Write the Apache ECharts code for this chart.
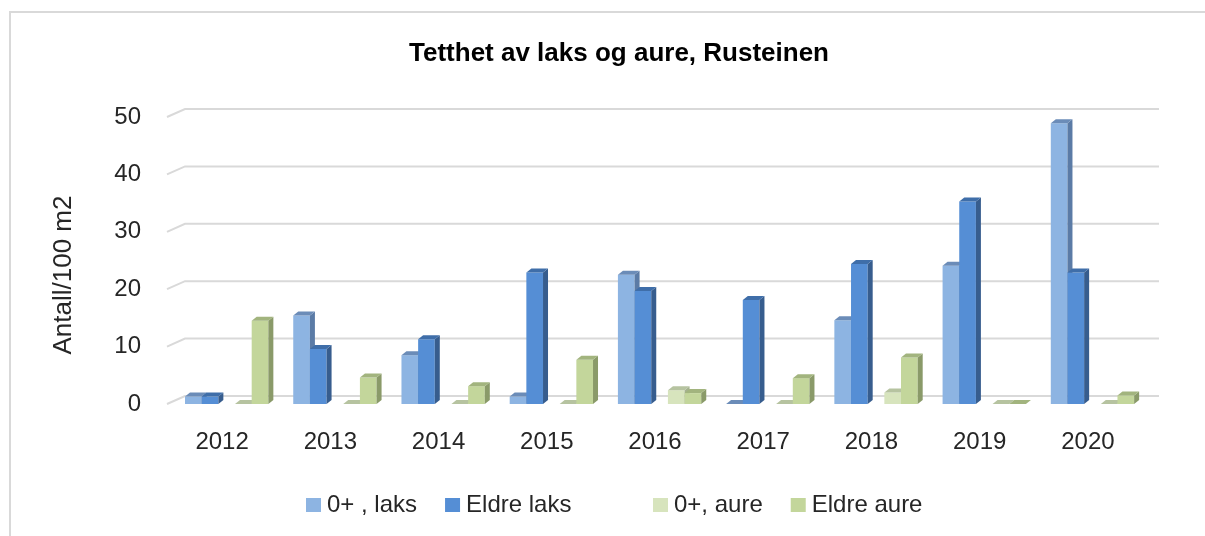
<!DOCTYPE html>
<html>
<head>
<meta charset="utf-8">
<script src="https://cdn.jsdelivr.net/npm/echarts@6/dist/echarts.min.js"></script>
<style>
  html, body { margin: 0; padding: 0; background: #fff; }
  #main { width: 1205px; height: 536px; }
</style>
</head>
<body>
<div id="main"></div>
<script>
let chart = echarts.init(document.getElementById('main'));

// Data
const years = ['2012', '2013', '2014', '2015', '2016', '2017', '2018', '2019', '2020'];
const laks0 = [1.3, 15.4, 8.5, 1.3, 22.5, 0, 14.6, 24.1, 48.9];
const laksEldre = [1.3, 9.6, 11.3, 22.9, 19.7, 18.1, 24.4, 35.3, 22.9];
const aure0 = [0, 0, 0, 0, 2.4, 0, 2.0, 0, 0];
const aureEldre = [14.5, 4.6, 3.1, 7.7, 1.9, 4.5, 8.1, 0, 1.5];
const yTicks = [0, 10, 20, 30, 40, 50];

const FONT = '"Liberation Sans", Arial, sans-serif';
const TXT = '#262626';

// bar depth (3D look) and back-wall offset
const DX = 5, DY = 4;
const WX = 17, WY = 8;

function barRender(slot, colors) {
    return function (params, api) {
        let idx = api.value(0);
        let v = api.value(1);
        let base = api.coord([idx, 0]);
        let top = api.coord([idx, v]);
        let bw = api.size([1, 0])[0];
        let w = bw * 0.154;
        let x0 = base[0] - bw * 0.3427 + slot * w;
        let x1 = x0 + w;
        let yb = base[1], yt = top[1];
        return {
            type: 'group',
            children: [
                { type: 'rect', shape: { x: x0, y: yt, width: w, height: yb - yt }, style: { fill: colors[0] } },
                { type: 'polygon', shape: { points: [[x1, yb], [x1, yt], [x1 + DX, yt - DY], [x1 + DX, yb - DY]] }, style: { fill: colors[2] } },
                { type: 'polygon', shape: { points: [[x0, yt], [x1, yt], [x1 + DX, yt - DY], [x0 + DX, yt - DY]] }, style: { fill: colors[1] } }
            ]
        };
    };
}

function gridRender(params, api) {
    let cs = params.coordSys;
    let y = api.coord([0, api.value(1)])[1];
    return {
        type: 'polyline',
        shape: { points: [[cs.x - 1, y], [cs.x + WX, y - WY], [cs.x + cs.width + WX, y - WY]] },
        style: { stroke: '#d9d9d9', lineWidth: 2, fill: null }
    };
}

function barSeries(name, values, slot, colors) {
    return {
        name: name,
        type: 'custom',
        renderItem: barRender(slot, colors),
        data: values.map((v, i) => [i, v]),
        encode: { x: 0, y: 1 },
        itemStyle: { color: colors[0] },
        z: 3,
        silent: true
    };
}

let legendBase = {
    orient: 'horizontal',
    top: 493,
    padding: 0,
    itemWidth: 15,
    itemHeight: 14,
    itemGap: 28,
    icon: 'rect',
    selectedMode: false,
    textStyle: { fontFamily: FONT, fontSize: 24, color: TXT, padding: [0, 0, 0, 1] }
};

let option = {
    animation: false,
    backgroundColor: '#fff',
    title: {
        text: 'Tetthet av laks og aure, Rusteinen',
        left: 614,
        textAlign: 'center',
        top: 36,
        textStyle: { fontFamily: FONT, fontSize: 26, fontWeight: 'bold', color: '#000' }
    },
    legend: [
        Object.assign({}, legendBase, { left: 306, data: ['0+ , laks', 'Eldre laks'] }),
        Object.assign({}, legendBase, { left: 653, data: ['0+, aure', 'Eldre aure'] })
    ],
    grid: { left: 168, right: 63, top: 117, bottom: 132 },
    xAxis: {
        type: 'category',
        data: years,
        axisLine: { show: false },
        axisTick: { show: false },
        axisLabel: { fontFamily: FONT, fontSize: 24, color: TXT, margin: 26 }
    },
    yAxis: {
        type: 'value',
        min: 0,
        max: 50,
        interval: 10,
        axisLine: { show: false },
        axisTick: { show: false },
        splitLine: { show: false },
        axisLabel: { fontFamily: FONT, fontSize: 24, color: TXT, margin: 27, padding: [8, 0, 0, 0] }
    },
    graphic: [
        {
            type: 'rect', z: -10, silent: true,
            shape: { x: 10, y: 12, width: 1400, height: 800 },
            style: { fill: null, stroke: '#d9d9d9', lineWidth: 2 }
        },
        {
            type: 'text', x: 64, y: 275, rotation: Math.PI / 2, silent: true,
            style: {
                text: 'Antall/100 m2', fontFamily: FONT, fontSize: 26, fill: TXT,
                align: 'center', verticalAlign: 'middle'
            }
        }
    ],
    series: [
        {
            name: 'wall',
            type: 'custom',
            renderItem: gridRender,
            data: yTicks.map(t => [0, t]),
            encode: { x: 0, y: 1 },
            z: 1,
            silent: true
        },
        barSeries('0+ , laks', laks0, 0, ['#8db4e2', '#6b8cb8', '#5b7ba6']),
        barSeries('Eldre laks', laksEldre, 1, ['#558ed5', '#3f6ea9', '#375d8e']),
        barSeries('0+, aure', aure0, 3, ['#d7e4bd', '#b6c3a0', '#a5b18f']),
        barSeries('Eldre aure', aureEldre, 4, ['#c3d69b', '#a2b47e', '#8a9a69'])
    ]
};

chart.setOption(option);
</script>
</body>
</html>
